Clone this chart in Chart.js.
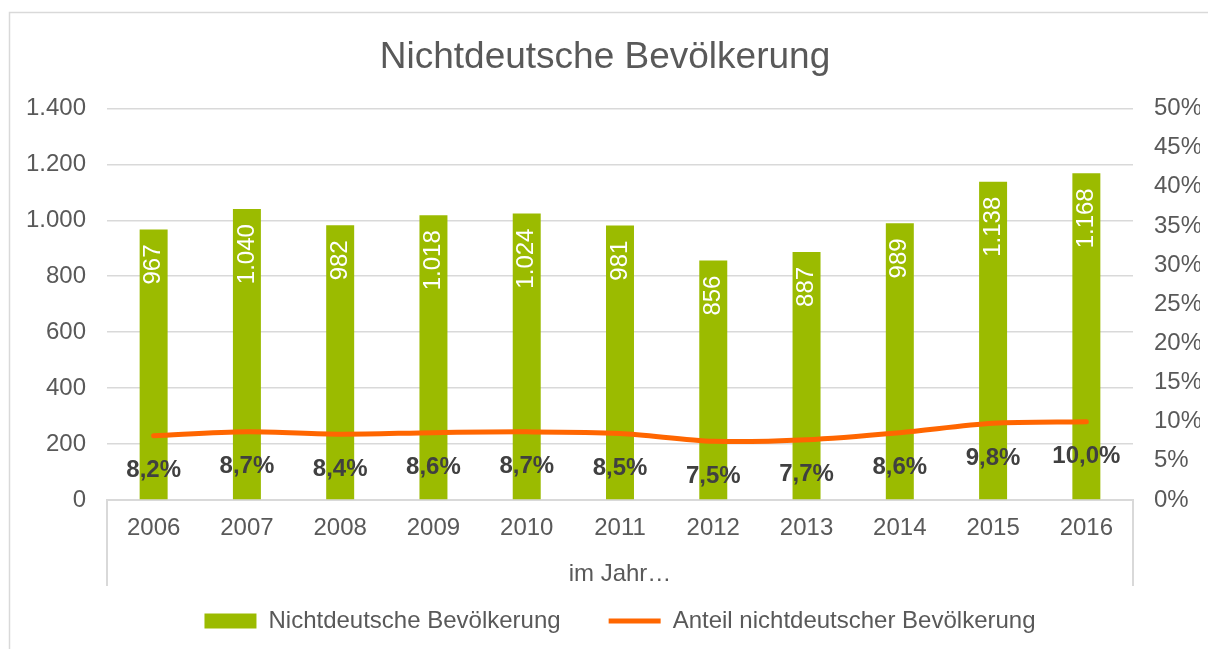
<!DOCTYPE html>
<html>
<head>
<meta charset="utf-8">
<script src="https://cdn.jsdelivr.net/npm/chart.js@4.4.1/dist/chart.umd.min.js"></script>
<style>
  body { margin: 0; background: #fff; }
  #results { display: block; }
</style>
</head>
<body>
<canvas id="results" width="1208" height="649"></canvas>
<script>
const years = ["2006", "2007", "2008", "2009", "2010", "2011", "2012", "2013", "2014", "2015", "2016"];
const population = [967, 1040, 982, 1018, 1024, 981, 856, 887, 989, 1138, 1168];
const share = [8.2, 8.7, 8.4, 8.6, 8.7, 8.5, 7.5, 7.7, 8.6, 9.8, 10.0];
const leftTicks = { min: 0, max: 1400, step: 200 };
const rightTicks = { min: 0, max: 50, step: 5 };

const grey = "#595959";
const gridGrey = "#d9d9d9";
const font = "'Liberation Sans', Arial, sans-serif";

const fmtNum = (v) => v.toLocaleString("de-DE");
const fmtPct = (v) => v.toLocaleString("de-DE", { minimumFractionDigits: 1, maximumFractionDigits: 1 }) + "%";

// frame, bracket under the x axis, legend position
const framePlugin = {
  id: "frame",
  beforeDraw(chart) {
    const ctx = chart.ctx;
    ctx.save();
    ctx.fillStyle = "#fff";
    ctx.fillRect(0, 0, chart.width, chart.height);
    ctx.strokeStyle = gridGrey;
    ctx.lineWidth = 1.5;
    ctx.strokeRect(9.5, 12.5, chart.width + 20, chart.height + 20);
    ctx.restore();
  },
  afterLayout(chart) {
    const lg = chart.legend;
    lg.top = chart.chartArea.bottom + 61;
    lg.bottom = lg.top + 90;
    lg.height = lg.bottom - lg.top;
    lg.left += 15;
    lg.right += 15;
  },
  afterDraw(chart) {
    const ctx = chart.ctx;
    const a = chart.chartArea;
    ctx.save();
    ctx.strokeStyle = gridGrey;
    ctx.lineWidth = 2;
    ctx.beginPath();
    ctx.moveTo(a.left, a.bottom);
    ctx.lineTo(a.left, a.bottom + 86);
    ctx.moveTo(a.right, a.bottom);
    ctx.lineTo(a.right, a.bottom + 86);
    ctx.stroke();
    ctx.restore();
  },
};

// value labels
const labelPlugin = {
  id: "valueLabels",
  afterDatasetsDraw(chart) {
    const ctx = chart.ctx;
    ctx.save();
    const bars = chart.getDatasetMeta(0).data;
    ctx.font = "24px " + font;
    ctx.fillStyle = "#fff";
    bars.forEach((el, i) => {
      ctx.save();
      ctx.translate(el.x, el.y + 15);
      ctx.rotate(-Math.PI / 2);
      ctx.textAlign = "right";
      ctx.textBaseline = "middle";
      ctx.fillText(fmtNum(population[i]), 0, 0);
      ctx.restore();
    });
    const pts = chart.getDatasetMeta(1).data;
    ctx.font = "bold 24px " + font;
    ctx.fillStyle = "#404040";
    ctx.textAlign = "center";
    ctx.textBaseline = "middle";
    pts.forEach((el, i) => {
      ctx.fillText(fmtPct(share[i]), el.x, el.y + 35);
    });
    ctx.restore();
  },
};

Chart.defaults.font.family = font;
Chart.defaults.font.size = 24;
Chart.defaults.color = grey;

const ctx = document.getElementById("results");
const resultsChart = new Chart(ctx, {
  type: "bar",
  data: {
    labels: years,
    datasets: [
      {
        type: "bar",
        label: "Nichtdeutsche Bevölkerung",
        data: population,
        backgroundColor: "#9BBB00",
        borderWidth: 0,
        barPercentage: 0.6,
        categoryPercentage: 0.5,
        yAxisID: "y",
        order: 1,
        pointStyle: "rect",
      },
      {
        type: "line",
        label: "Anteil nichtdeutscher Bevölkerung",
        data: share,
        borderColor: "#FF6600",
        backgroundColor: "#FF6600",
        borderWidth: 5,
        borderCapStyle: "round",
        tension: 0.3,
        pointRadius: 0,
        pointStyle: "line",
        yAxisID: "y1",
        order: 0,
      },
    ],
  },
  options: {
    responsive: false,
    animation: false,
    devicePixelRatio: 1,
    layout: { padding: { left: 10, right: 8, top: 0, bottom: 0 } },
    plugins: {
      title: {
        display: true,
        text: "Nichtdeutsche Bevölkerung",
        color: grey,
        font: { size: 37, weight: "normal" },
        padding: { top: 36, bottom: 28 },
      },
      legend: {
        position: "bottom",
        maxHeight: 60,
        labels: {
          usePointStyle: true,
          pointStyleWidth: 52,
          boxHeight: 15,
          padding: 48,
          color: grey,
          font: { size: 24 },
          sort: (a, b) => a.datasetIndex - b.datasetIndex,
        },
      },
      tooltip: { enabled: false },
    },
    scales: {
      x: {
        grid: { display: false, drawTicks: false },
        border: { display: true, color: gridGrey, width: 2 },
        ticks: { padding: 14, color: grey, maxRotation: 0 },
        title: { display: true, text: "im Jahr…", color: grey, font: { size: 24 }, padding: { top: 0, bottom: 0 } },
        afterFit: (s) => { s.height = 89; },
      },
      y: {
        position: "left",
        min: leftTicks.min,
        max: leftTicks.max,
        grid: { color: gridGrey, lineWidth: 1.5, drawTicks: false },
        border: { display: false },
        ticks: { stepSize: leftTicks.step, padding: 21, color: grey, callback: (v) => fmtNum(v) },
        afterFit: (s) => { s.width = 97; },
      },
      y1: {
        position: "right",
        min: rightTicks.min,
        max: rightTicks.max,
        grid: { display: false, drawTicks: false },
        border: { display: false },
        ticks: { stepSize: rightTicks.step, crossAlign: "near", padding: 21, color: grey, callback: (v) => v + "%" },
        afterFit: (s) => { s.width = 67; },
      },
    },
  },
  plugins: [framePlugin, labelPlugin],
});
</script>
</body>
</html>
